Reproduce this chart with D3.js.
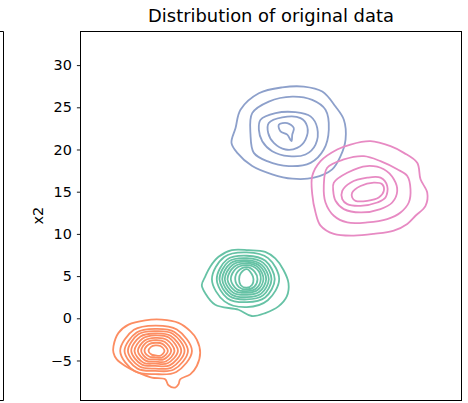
<!DOCTYPE html>
<html lang="en">
    <head>
        <meta charset="utf-8" />
        <title>Distribution of original data</title>
        <script src="https://d3js.org/d3.v7.min.js"></script>
        <style>
            body {
                margin: 0;
                background: #fff;
            }
            text {
                font-family: "DejaVu Sans", sans-serif;
            }
        </style>
    </head>
    <body>
        <div id="chart"></div>

        <script>
            // values (x2 axis in data units, x1 has no visible ticks)
            var yTicks = [-5, 0, 5, 10, 15, 20, 25, 30];
            var groups = ["a", "b", "c", "d"];
            var palette = ["#fc8d62", "#66c2a5", "#8da0cb", "#e78ac3"];

            // blue blob: every contour as points
            var blueContours = [
                [[18.27, 27.45], [20.44, 26.86], [22.0, 25.09], [22.98, 23.53], [23.18, 21.18], [22.59, 19.21],
                 [21.61, 17.65], [19.45, 16.66], [16.91, 16.54], [14.55, 17.06], [12.2, 18.04], [10.44, 19.6],
                 [9.76, 20.78], [10.24, 22.54], [10.82, 24.71], [12.98, 26.66], [15.73, 27.36]],
                [[12.2, 24.31], [14.15, 25.68], [16.91, 26.27], [19.26, 25.88], [20.82, 24.71], [21.21, 22.35],
                 [20.62, 20.0], [19.06, 18.42], [16.51, 18.04], [13.96, 18.62], [12.39, 19.6], [12.0, 21.76]],
                [[13.18, 23.53], [14.94, 24.31], [17.29, 24.42], [19.06, 23.92], [19.85, 22.54], [19.65, 20.59],
                 [18.47, 19.41], [16.51, 19.21], [14.55, 19.8], [13.38, 20.98], [12.98, 22.35]],
                [[14.15, 23.13], [15.73, 23.8], [17.88, 23.72], [18.67, 22.74], [18.47, 21.18], [17.49, 20.19],
                 [16.12, 20.0], [14.74, 20.78], [14.08, 21.95]],
                [[15.33, 22.94], [16.32, 23.13], [17.09, 22.54], [16.91, 21.76], [16.82, 20.98], [16.32, 21.76],
                 [15.53, 22.15]]
            ];

            // pink blob
            var pinkContours = [
                [[26.12, 20.98], [28.47, 20.39], [30.04, 19.6], [31.61, 18.42], [32.0, 16.47], [32.79, 14.89],
                 [32.59, 13.33], [31.41, 12.15], [30.44, 11.18], [28.86, 10.39], [26.51, 10.0], [24.15, 9.8],
                 [21.8, 10.0], [20.24, 10.98], [19.65, 12.54], [19.26, 14.71], [19.26, 16.86], [20.24, 18.62],
                 [22.2, 20.0], [23.76, 20.59]],
                [[21.02, 17.84], [22.98, 18.82], [25.33, 19.21], [27.29, 18.62], [29.26, 17.65], [30.44, 16.86],
                 [30.82, 15.29], [30.62, 13.72], [29.65, 12.54], [28.08, 11.76], [25.73, 11.36], [23.38, 11.36],
                 [21.8, 12.15], [20.82, 13.72], [20.62, 15.68]],
                [[21.8, 16.07], [23.38, 17.25], [25.73, 18.04], [27.68, 17.65], [28.86, 16.47], [29.26, 15.09],
                 [28.67, 13.72], [27.29, 12.94], [24.94, 12.54], [22.98, 12.94], [22.0, 13.92], [21.73, 15.09]],
                [[22.79, 15.09], [23.76, 16.07], [25.73, 16.66], [27.29, 16.66], [28.08, 15.68], [27.88, 14.31],
                 [26.91, 13.72], [24.94, 13.33], [23.38, 13.53], [22.79, 14.12]],
                [[23.96, 14.89], [24.94, 15.68], [26.51, 16.07], [27.49, 15.88], [27.68, 15.09], [27.09, 14.31],
                 [25.73, 13.92], [24.35, 13.92], [23.96, 14.31]]
            ];

            // green blob: outer contour as points, inner rings as radii (E, NE, N, NW, W, SW, S, SE)
            var greenOuter = [
                [7.26, 6.12], [8.24, 7.29], [9.8, 8.07], [11.76, 8.07], [13.73, 7.88], [14.91, 7.09], [15.88, 5.72],
                [16.47, 4.15], [16.27, 2.59], [15.29, 1.41], [13.73, 0.62], [12.15, 0.27], [10.59, 1.01],
                [7.85, 1.6], [6.67, 2.98], [6.27, 3.95], [6.67, 4.94]
            ];
            var greenCenter = [11.56, 4.62];
            var greenRings = [
                [0.79, 0.85, 1.2, 1.0, 0.9, 1.0, 1.0, 0.9],
                [1.26, 1.3, 1.45, 1.4, 1.36, 1.3, 1.21, 1.25],
                [1.65, 1.7, 1.68, 1.8, 1.88, 1.65, 1.41, 1.55],
                [1.96, 1.95, 1.88, 2.1, 2.27, 1.95, 1.61, 1.8],
                [2.28, 2.2, 2.08, 2.4, 2.59, 2.25, 1.85, 2.1],
                [2.59, 2.45, 2.27, 2.7, 2.89, 2.55, 2.12, 2.4],
                [2.91, 2.75, 2.51, 3.0, 3.21, 2.85, 2.39, 2.7],
                [3.29, 3.1, 2.79, 3.3, 3.53, 3.2, 2.71, 3.05],
                [3.81, 3.55, 3.18, 3.75, 4.1, 3.7, 3.29, 3.5]
            ];

            // orange blob
            var orangeOuter = [
                [-4.12, -3.29], [-3.53, -1.73], [-2.35, -0.75], [-0.39, -0.24], [1.56, -0.16], [3.53, -0.55],
                [4.91, -1.53], [5.68, -2.52], [6.08, -4.08], [5.68, -5.65], [4.91, -6.64], [3.73, -7.22],
                [3.53, -7.81], [3.14, -8.2], [2.35, -7.93], [1.96, -7.22], [0.39, -7.02], [-1.18, -6.44],
                [-2.74, -5.65], [-3.73, -4.87], [-4.12, -4.08]
            ];
            var orangeCenter = [0.79, -3.88];
            var orangeRings = [
                [1.09, 0.85, 0.67, 0.7, 0.79, 0.6, 0.51, 0.8],
                [1.49, 1.2, 0.98, 1.1, 1.26, 0.95, 0.74, 1.1],
                [1.88, 1.55, 1.29, 1.45, 1.65, 1.3, 0.98, 1.4],
                [2.27, 1.9, 1.56, 1.75, 2.04, 1.6, 1.26, 1.75],
                [2.67, 2.25, 1.85, 2.1, 2.44, 1.95, 1.49, 2.05],
                [3.06, 2.55, 2.08, 2.45, 2.82, 2.25, 1.76, 2.4],
                [3.45, 2.9, 2.35, 2.8, 3.21, 2.6, 2.08, 2.75],
                [3.85, 3.2, 2.62, 3.1, 3.61, 2.95, 2.35, 3.1],
                [4.32, 3.6, 3.02, 3.55, 4.12, 3.4, 2.74, 3.5]
            ];

            var width = 468,
                height = 403;
            var plotL = 80.5,
                plotR = 461.5,
                plotT = 31,
                plotB = 400.5;

            var svg = d3
                .select("#chart")
                .append("svg")
                .attr("width", width)
                .attr("height", height);

            var x = d3.scaleLinear().domain([-8, 36.82]).range([plotL, plotR]);
            var y = d3.scaleLinear().domain([-9.74, 34.04]).range([plotB, plotT]);

            function ring(center, radii) {
                return radii.map(function (r, i) {
                    var a = (i * Math.PI) / 4;
                    return [center[0] + r * Math.cos(a), center[1] + r * Math.sin(a)];
                });
            }

            var orangeAll = [orangeOuter].concat(
                orangeRings.map((r) => ring(orangeCenter, r))
            );
            var greenAll = [greenOuter].concat(
                greenRings.map((r) => ring(greenCenter, r))
            );
            var contourSets = [orangeAll, greenAll, blueContours, pinkContours];

            var line = d3
                .line()
                .x((d) => x(d[0]))
                .y((d) => y(d[1]))
                .curve(d3.curveCatmullRomClosed.alpha(0.5));

            var plot = svg.append("g");
            contourSets.forEach(function (set, k) {
                plot.append("g")
                    .attr("class", "group-" + groups[k])
                    .selectAll("path")
                    .data(set)
                    .enter()
                    .append("path")
                    .attr("d", line)
                    .attr("fill", "none")
                    .attr("stroke", palette[k])
                    .attr("stroke-width", 1.8)
                    .attr("stroke-linejoin", "round");
            });

            // y axis
            var yAxis = d3
                .axisLeft(y)
                .tickValues(yTicks)
                .tickSize(3.6)
                .tickPadding(5)
                .tickFormat((d) => (d < 0 ? "\u2212" + Math.abs(d) : d));
            var ya = svg
                .append("g")
                .attr("transform", "translate(" + plotL + ",0)")
                .call(yAxis);
            ya.select(".domain").remove();
            ya.selectAll("text")
                .attr("font-size", "14.4px")
                .attr("font-family", "DejaVu Sans")
                .attr("fill", "#000");
            ya.selectAll("line").attr("stroke", "#000").attr("stroke-width", 0.9);

            // frame
            svg.append("rect")
                .attr("x", plotL)
                .attr("y", plotT + 0.5)
                .attr("width", plotR - plotL)
                .attr("height", plotB - plotT - 0.5)
                .attr("fill", "none")
                .attr("stroke", "#000")
                .attr("stroke-width", 1);

            // edge of neighbouring panel
            svg.append("path")
                .attr("d", "M0," + (plotT + 0.5) + "H3.5V" + plotB + "H0")
                .attr("fill", "none")
                .attr("stroke", "#000")
                .attr("stroke-width", 1);

            svg.append("text")
                .attr("x", (plotL + plotR) / 2)
                .attr("y", 22)
                .attr("text-anchor", "middle")
                .attr("font-size", "17.9px")
                .text("Distribution of original data");

            svg.append("text")
                .attr("transform", "translate(43," + (plotT + plotB) / 2 + ") rotate(-90)")
                .attr("text-anchor", "middle")
                .attr("font-size", "14.4px")
                .text("x2");
        </script>
    </body>
</html>
